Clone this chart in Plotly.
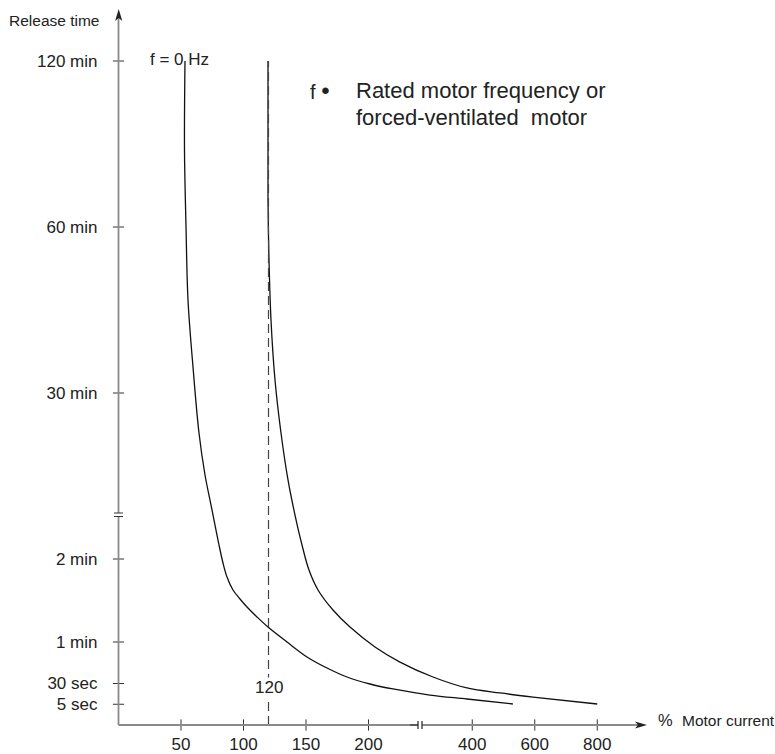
import numpy as np
import plotly.graph_objects as go

# tick values
current_ticks = [50, 100, 150, 200, 400, 600, 800]          # % motor current
time_ticks_s = [5, 30, 60, 120, 1800, 3600, 7200]            # seconds
time_tick_text = ["5 sec", "30 sec", "1 min", "2 min", "30 min", "60 min", "120 min"]

# f = 0 Hz curve (current %, release time s)
zero_hz_current = [53.2, 52.8, 54.0, 55.6, 59.6, 64.4, 69.2, 73.2, 77.2, 80.4, 83.6, 86.8,
                   91.6, 97.2, 102.8, 110.8, 119.6, 134.8, 150.8, 166.8, 182.8, 202.9, 247.2,
                   318.5, 389.9, 530]
zero_hz_time_s = [7200, 5270, 3620, 2808, 2082, 1395, 970, 717, 464, 262, 117.1, 107.0,
                  97.6, 91.1, 85.3, 78.1, 70.8, 60.0, 49.2, 41.2, 34.7, 29.4, 23.4,
                  16.1, 11.3, 5.3]

# rated frequency / forced-ventilated curve
rated_current = [119.6, 119.6, 120.4, 122.0, 125.2, 130.0, 135.6, 141.2, 146.8, 152.4,
                 159.6, 171.6, 185.2, 212.5, 260.7, 324.3, 389.9, 488.8, 594.4, 800]
rated_time_s = [7200, 4185, 3242, 2592, 1941, 1395, 920, 565, 262, 112.0,
                97.6, 83.1, 70.8, 56.4, 45.5, 34.7, 24.6, 18.6, 13.7, 5.3]

rated_line_current = 120

# broken axes: value -> axis position
X_VAL = [0, 200, 400, 800]
X_POS = [0, 4, 5.66, 7.66]
Y_VAL = [0, 5, 30, 60, 120, 1800, 3600, 7200]
Y_POS = [0, 0.25, 0.5, 1, 2, 4, 6, 8]


def xpos(v):
    return np.interp(v, X_VAL, X_POS)


def ypos(s):
    return np.interp(s, Y_VAL, Y_POS)


# canvas mapping (one axis unit = 62.5 px across, 83 px up; origin at 118.5, 725)
W, H = 775, 754
OX, OY, SX, SY = 118.5, 725.0, 62.5, 83.0


def px(x, y):
    return (x - OX) / SX, (OY - y) / SY


FONT = "Liberation Sans, Arial, sans-serif"
AXIS_COL = "#8a8a8a"

fig = go.Figure()

for cur, t in ((zero_hz_current, zero_hz_time_s), (rated_current, rated_time_s)):
    fig.add_trace(go.Scatter(
        x=xpos(cur), y=ypos(t), mode="lines",
        line=dict(color="#111", width=1.3, shape="spline", smoothing=1.0),
        hoverinfo="skip", showlegend=False))

# dashed 120 % line
fig.add_trace(go.Scatter(
    x=xpos([rated_line_current, rated_line_current]), y=ypos([0, 7200]), mode="lines",
    line=dict(color="#444", width=1.2, dash="9px,5px"),
    hoverinfo="skip", showlegend=False))

# cross tick marks
fig.add_trace(go.Scatter(
    x=xpos(current_ticks), y=[0] * len(current_ticks), mode="markers",
    marker=dict(symbol="line-ns", size=8, line=dict(color="#333", width=1)),
    cliponaxis=False, hoverinfo="skip", showlegend=False))
fig.add_trace(go.Scatter(
    x=[0] * len(time_ticks_s), y=ypos(time_ticks_s), mode="markers",
    marker=dict(symbol="line-ew", size=8, line=dict(color="#333", width=1)),
    cliponaxis=False, hoverinfo="skip", showlegend=False))

shapes = []
# y axis with break
yb0 = px(0, 516.5)[1]
yb1 = px(0, 513)[1]
ytop = px(0, 18)[1]
shapes.append(dict(type="line", x0=0, x1=0, y0=0, y1=yb0, line=dict(color=AXIS_COL, width=1.8)))
shapes.append(dict(type="line", x0=0, x1=0, y0=yb1, y1=ytop, line=dict(color=AXIS_COL, width=1.8)))
for yb in (yb0, yb1):
    shapes.append(dict(type="line", x0=-4.5 / SX, x1=4.5 / SX, y0=yb, y1=yb,
                       line=dict(color="#333", width=1)))
# x axis with break
xb0 = px(418, 0)[0]
xb1 = px(422, 0)[0]
xend = px(640, 0)[0]
shapes.append(dict(type="line", x0=0, x1=xb0, y0=0, y1=0, line=dict(color=AXIS_COL, width=1.8)))
shapes.append(dict(type="line", x0=px(410, 0)[0], x1=xb0, y0=0, y1=0, line=dict(color="#555", width=1.8)))
shapes.append(dict(type="line", x0=xb1, x1=xend, y0=0, y1=0, line=dict(color=AXIS_COL, width=1.8)))
for xb in (xb0, xb1):
    shapes.append(dict(type="line", x0=xb, x1=xb, y0=-4 / SY, y1=4 / SY,
                       line=dict(color="#222", width=1.2)))


def path_from_px(points):
    d = ""
    for i, (a, b) in enumerate(points):
        x, y = px(a, b)
        d += ("M" if i == 0 else "L") + f"{x:.4f},{y:.4f}"
    return d + "Z"


# arrowheads
shapes.append(dict(type="path", path=path_from_px([(118.7, 9), (122.3, 21), (118.7, 18), (115.1, 21)]),
                   fillcolor="#222", line=dict(width=0)))
shapes.append(dict(type="path", path=path_from_px([(647, 725), (635, 728.6), (638, 725), (635, 721.4)]),
                   fillcolor="#222", line=dict(width=0)))


def note(x, y, text, size, anchor="left"):
    ax, ay = px(x, y)
    return dict(x=ax, y=ay, text=text, showarrow=False, xanchor=anchor, yanchor="middle",
                font=dict(family=FONT, size=size, color="#222"))


annotations = [
    note(7, 20, "Release time", 15.5),
    note(148, 59, "f = 0 Hz", 17),
    note(308, 90, "f <span style='font-size:24px'>•</span>", 20),
    note(354, 90, "Rated motor frequency or", 22),
    note(354, 117, "forced-ventilated&nbsp; motor", 22),
    note(656, 720, "%", 16.5),
    note(680, 720, "Motor current", 15.5),
]
lx, ly = xpos(rated_line_current), px(0, 687)[1]
annotations.append(dict(x=lx, y=ly, text="120", showarrow=False, xanchor="center", yanchor="middle",
                        bgcolor="white", borderpad=0, font=dict(family=FONT, size=17, color="#222")))

xr = [px(0, 0)[0], px(W, 0)[0]]
yr = [px(0, H)[1], px(0, 0)[1]]

fig.update_layout(
    width=W, height=H,
    margin=dict(l=0, r=0, t=0, b=0),
    paper_bgcolor="white", plot_bgcolor="white",
    font=dict(family=FONT, size=17, color="#222"),
    shapes=shapes, annotations=annotations,
    xaxis=dict(range=xr, showgrid=False, zeroline=False, showline=False, ticks="",
               tickvals=list(xpos(current_ticks)), ticktext=[str(c) for c in current_ticks],
               anchor="free", position=(0 - yr[0]) / (yr[1] - yr[0]), automargin=False,
               ticklabelstandoff=7, tickfont=dict(family=FONT, size=17, color="#222")),
    yaxis=dict(range=yr, showgrid=False, zeroline=False, showline=False, ticks="",
               tickvals=list(ypos(time_ticks_s)), ticktext=time_tick_text,
               anchor="free", position=(0 - xr[0]) / (xr[1] - xr[0]), automargin=False,
               ticklabelstandoff=21, tickfont=dict(family=FONT, size=17, color="#222")),
    showlegend=False,
)

fig.write_html("out.html", config={"displayModeBar": False},
               post_script="document.body.style.margin='0';")
